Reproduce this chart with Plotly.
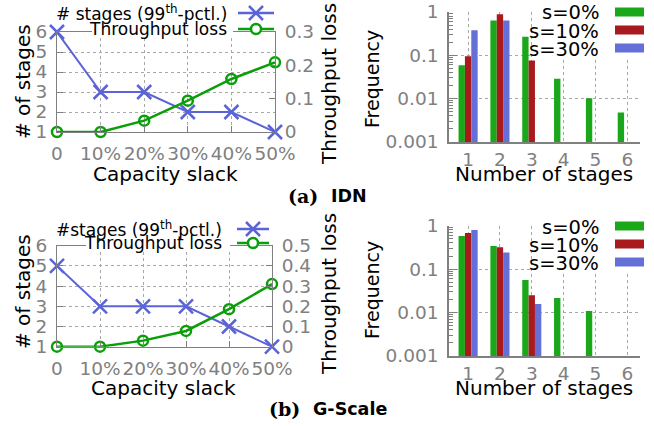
import plotly.graph_objects as go

W, H = 654, 426
FONT = "DejaVu Sans"
GRAY = "#808080"
GRID = "#a8a8a8"
BLUE_LINE = "#5a64d8"
GREEN_LINE = "#0a9e0a"
C_S0 = "#1aa81a"
C_S10 = "#a81a1e"
C_S30 = "#6470d8"

# ---------------- data ----------------
slack = [0, 10, 20, 30, 40, 50]
slack_labels = ["0", "10%", "20%", "30%", "40%", "50%"]

idn_stages = [6, 3, 3, 2, 2, 1]
idn_loss = [0, 0, 0.034, 0.094, 0.159, 0.209]

gs_stages = [5, 3, 3, 3, 2, 1]
gs_loss = [0, 0, 0.03, 0.078, 0.186, 0.31]

n_stages = [1, 2, 3, 4, 5, 6]
idn_s0 = [0.059, 0.64, 0.27, 0.029, 0.0102, 0.0048]
idn_s10 = [0.095, 0.89, 0.076, None, None, None]
idn_s30 = [0.38, 0.64, None, None, None, None]

gs_s0 = [0.58, 0.34, 0.056, 0.0216, 0.0109, None]
gs_s10 = [0.68, 0.32, 0.025, None, None, None]
gs_s30 = [0.80, 0.24, 0.0157, None, None, None]

freq_ticks = [0.001, 0.01, 0.1, 1]
freq_labels = ["0.001", "0.01", "0.1", "1"]
minor_vals = [m * 10 ** e for e in (-3, -2, -1) for m in range(2, 10)]


def px(x):
    return x / W


def py(y):
    return 1 - y / H


fig = go.Figure()

# ---------------- line charts ----------------
for xa, ya, ya2, stages, loss in [("x", "y", "y2", idn_stages, idn_loss),
                                  ("x3", "y3", "y4", gs_stages, gs_loss)]:
    fig.add_trace(go.Scatter(x=slack, y=stages, xaxis=xa, yaxis=ya, mode="lines+markers",
                             line=dict(color=BLUE_LINE, width=2),
                             marker=dict(symbol="x-thin-open", size=14,
                                         line=dict(color=BLUE_LINE, width=2.5)),
                             cliponaxis=False, showlegend=False))
    fig.add_trace(go.Scatter(x=slack, y=loss, xaxis=xa, yaxis=ya2, mode="lines+markers",
                             line=dict(color=GREEN_LINE, width=2.5),
                             marker=dict(symbol="circle-open", size=10,
                                         line=dict(color=GREEN_LINE, width=2.5)),
                             cliponaxis=False, showlegend=False))

# ---------------- bar charts ----------------
for xa, ya, s0, s10, s30 in [("x5", "y5", idn_s0, idn_s10, idn_s30),
                             ("x6", "y6", gs_s0, gs_s10, gs_s30)]:
    for vals, col in [(s0, C_S0), (s10, C_S10), (s30, C_S30)]:
        fig.add_trace(go.Bar(x=n_stages, y=vals, xaxis=xa, yaxis=ya,
                             marker=dict(color=col, line=dict(width=0)),
                             showlegend=False))

tickfont = dict(family=FONT, size=18.5, color=GRAY)

line_x_common = dict(range=[0, 50], tickvals=slack, ticktext=slack_labels, tickangle=0,
                     showline=True, mirror=True, linecolor=GRAY, linewidth=1,
                     ticks="inside", ticklen=6, tickcolor=GRAY, automargin=False,
                     showgrid=True, gridcolor=GRID, griddash="dot", gridwidth=1,
                     zeroline=False, tickfont=tickfont, ticklabelstandoff=5)
line_y_common = dict(range=[1, 6], tickvals=[1, 2, 3, 4, 5, 6], tickangle=0,
                     showline=True, mirror=True, linecolor=GRAY, linewidth=1,
                     ticks="inside", ticklen=6, tickcolor=GRAY, automargin=False,
                     showgrid=True, gridcolor=GRID, griddash="dot", gridwidth=1,
                     zeroline=False, tickfont=tickfont, ticklabelstandoff=5)
right_y_common = dict(side="right", showline=True, linecolor=GRAY, linewidth=1,
                      ticks="inside", ticklen=6, tickcolor=GRAY, showgrid=False,
                      zeroline=False, tickfont=tickfont, ticklabelstandoff=5,
                      automargin=False, tickangle=0)

dom_tl_x = [px(57), px(275)]
dom_tl_y = [py(132), py(32)]
dom_bl_x = [px(57), px(272)]
dom_bl_y = [py(346.7), py(245.7)]
dom_r_x = [px(449), px(640)]
dom_tr_y = [py(142), py(12)]
dom_br_y = [py(356), py(225.7)]

bar_x_common = dict(range=[0.4, 6.4], tickvals=n_stages, ticktext=[str(v) for v in n_stages],
                    showline=True, linecolor=GRAY, linewidth=1.5, ticks="", ticklen=0,
                    showgrid=True, gridcolor=GRID, griddash="dot", gridwidth=1, tickangle=0,
                    zeroline=False, tickfont=tickfont, ticklabelstandoff=0, automargin=False)
bar_y_common = dict(type="log", range=[-3, 0], tickvals=freq_ticks, ticktext=freq_labels,
                    showline=True, linecolor=GRAY, linewidth=1.5, tickangle=0,
                    ticks="inside", ticklen=8, tickcolor=GRAY, automargin=False,
                    minor=dict(tickvals=minor_vals, ticks="inside", ticklen=4,
                               tickcolor=GRAY, showgrid=False),
                    showgrid=True, gridcolor=GRID, griddash="dot", gridwidth=1,
                    zeroline=False, tickfont=tickfont, ticklabelstandoff=5)

fig.update_layout(
    width=W, height=H,
    margin=dict(l=0, r=0, t=0, b=0, pad=0, autoexpand=False),
    paper_bgcolor="white", plot_bgcolor="white",
    font=dict(family=FONT),
    showlegend=False,
    barmode="group", bargap=0.4, bargroupgap=0,
    xaxis=dict(domain=dom_tl_x, anchor="y", **line_x_common),
    yaxis=dict(domain=dom_tl_y, anchor="x", **line_y_common),
    yaxis2=dict(overlaying="y", anchor="x", range=[0, 0.3],
                tickvals=[0, 0.1, 0.2, 0.3], ticktext=["0", "0.1", "0.2", "0.3"],
                **right_y_common),
    xaxis3=dict(domain=dom_bl_x, anchor="y3", **line_x_common),
    yaxis3=dict(domain=dom_bl_y, anchor="x3", **line_y_common),
    yaxis4=dict(overlaying="y3", anchor="x3", range=[0, 0.5],
                tickvals=[0, 0.1, 0.2, 0.3, 0.4, 0.5],
                ticktext=["0", "0.1", "0.2", "0.3", "0.4", "0.5"],
                **right_y_common),
    xaxis5=dict(domain=dom_r_x, anchor="y5", **bar_x_common),
    yaxis5=dict(domain=dom_tr_y, anchor="x5", **bar_y_common),
    xaxis6=dict(domain=dom_r_x, anchor="y6", **bar_x_common),
    yaxis6=dict(domain=dom_br_y, anchor="x6", **bar_y_common),
)

shapes = []
annots = []


def text(x, y, s, size=20, color="black", angle=0, xanchor="center", family=FONT):
    annots.append(dict(x=px(x), y=py(y), xref="paper", yref="paper", text=s,
                       showarrow=False, textangle=angle, xanchor=xanchor, yanchor="middle",
                       font=dict(family=family, size=size, color=color)))


# axis titles
text(23, 82, "# of stages", angle=-90)
text(329, 84, "Throughput loss", angle=-90)
text(165, 174, "Capacity slack")
text(372, 79, "Frequency", angle=-90, size=19)
text(544, 174, "Number of stages")

text(23, 292, "# of stages", angle=-90)
text(329, 294, "Throughput loss", angle=-90)
text(164, 388, "Capacity slack")
text(372, 290, "Frequency", angle=-90, size=19)
text(544, 388, "Number of stages")

# captions
text(303, 196, "<b>(a)</b>", size=19, family="DejaVu Serif")
text(349, 196, "<b>IDN</b>", size=17.5)
text(284, 409, "<b>(b)</b>", size=19, family="DejaVu Serif")
text(350, 409, "<b>G-Scale</b>", size=17.5)

# white legend backgrounds
for x0, y0, x1, y1 in [(92, 20, 233, 36), (86, 234, 230, 249), (536, 0, 654, 58), (536, 212, 654, 272)]:
    shapes.append(dict(type="rect", xref="paper", yref="paper", x0=px(x0), x1=px(x1),
                       y0=py(y1), y1=py(y0), fillcolor="white", line=dict(width=0),
                       layer="above"))

# line-chart legends
def line_key(xl, xr, y, color, kind):
    shapes.append(dict(type="line", xref="paper", yref="paper", x0=px(xl), x1=px(xr),
                       y0=py(y), y1=py(y), line=dict(color=color, width=2.5), layer="above"))
    xc = (xl + xr) / 2
    if kind == "x":
        for a, b in [(-7, -7), (-7, 7)]:
            shapes.append(dict(type="line", xref="paper", yref="paper", xsizemode="pixel",
                               ysizemode="pixel", xanchor=px(xc), yanchor=py(y),
                               x0=a, x1=-a, y0=b, y1=-b,
                               line=dict(color=color, width=2.5), layer="above"))
    else:
        shapes.append(dict(type="circle", xref="paper", yref="paper", xsizemode="pixel",
                           ysizemode="pixel", xanchor=px(xc), yanchor=py(y),
                           x0=-5, x1=5, y0=-5, y1=5, fillcolor="white",
                           line=dict(color=color, width=2.5), layer="above"))


text(229, 13, "# stages (99<sup>th</sup>-pctl.)", size=17, xanchor="right")
text(229, 29, "Throughput loss", size=17, xanchor="right")
line_key(238, 274, 13, BLUE_LINE, "x")
line_key(238, 274, 29, GREEN_LINE, "o")

text(224, 229, "#stages (99<sup>th</sup>-pctl.)", size=17, xanchor="right")
text(224, 243, "Throughput loss", size=17, xanchor="right")
line_key(237, 269, 229, BLUE_LINE, "x")
line_key(237, 269, 243, GREEN_LINE, "o")

# bar legends
for ys, yt in [((12, 30, 48), (13, 31, 49)), ((226, 244, 262), (227, 245, 263))]:
    for yy, tt, lab, col in zip(ys, yt, ["s=0%", "s=10%", "s=30%"], [C_S0, C_S10, C_S30]):
        text(601, tt, lab, size=19.5, xanchor="right")
        shapes.append(dict(type="rect", xref="paper", yref="paper", x0=px(615), x1=px(644),
                           y0=py(yy + 4.5), y1=py(yy - 4.5), fillcolor=col,
                           line=dict(width=0), layer="above"))

fig.update_layout(shapes=shapes, annotations=annots)
fig.write_html("out.html",
               config={"displayModeBar": False},
               post_script="document.body.style.margin='0px';"
                           "document.documentElement.style.overflow='hidden';")
